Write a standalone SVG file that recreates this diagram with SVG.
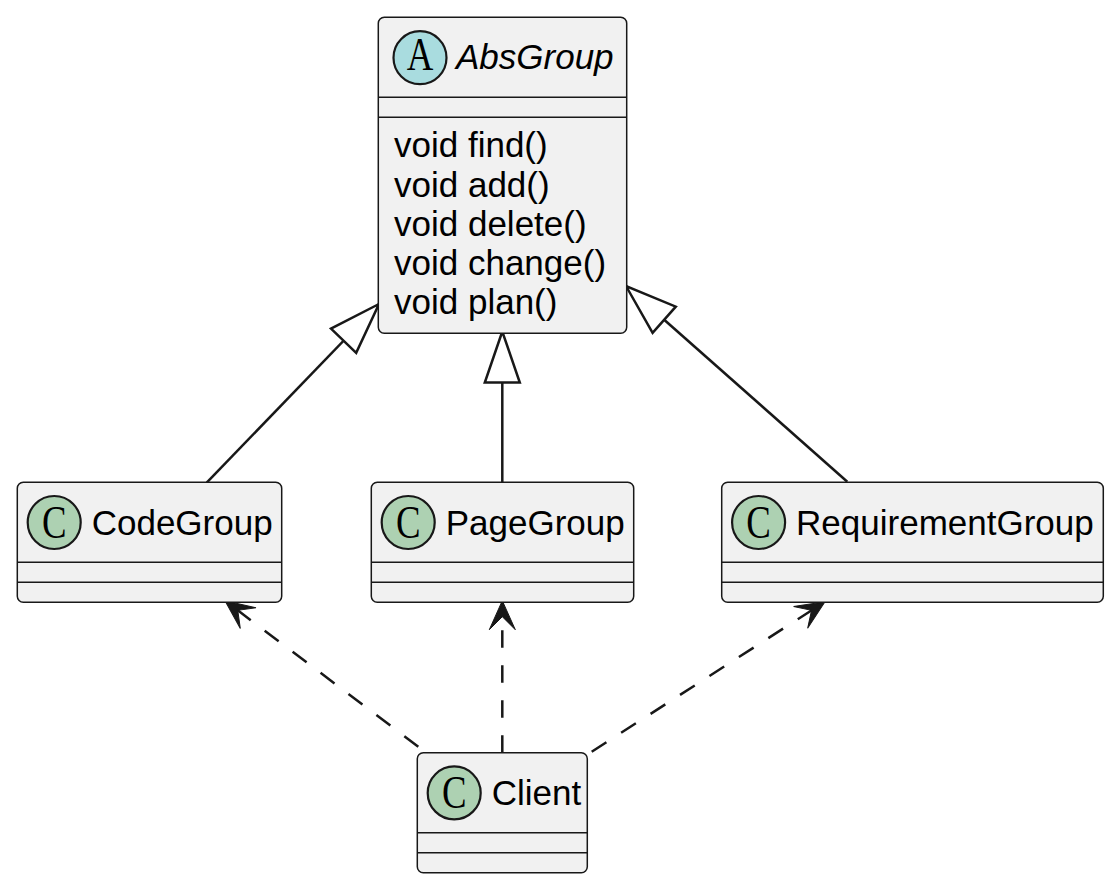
<svg xmlns="http://www.w3.org/2000/svg" width="1118" height="887" viewBox="0 0 1118 887">
<style>
.box{fill:#F1F1F1;stroke:#181818;stroke-width:1.5}
.sep{stroke:#181818;stroke-width:1.5}
.cls{fill:#ADD1B2;stroke:#181818;stroke-width:2.2}
.abs{fill:#A9DCDF;stroke:#181818;stroke-width:2.2}
.ico{font-family:"Liberation Serif","Times New Roman",serif;font-size:46px;fill:#000;text-anchor:middle}
.name{font-family:"Liberation Sans",Arial,sans-serif;font-size:35px;fill:#000}
.it{font-style:italic}
.gen{fill:none;stroke:#181818;stroke-width:2.5;marker-end:url(#tri)}
.dep{fill:none;stroke:#181818;stroke-width:2.5;stroke-dasharray:17.5,17.5;marker-end:url(#arr)}
</style>
<defs>
<marker id="tri" markerUnits="userSpaceOnUse" orient="auto" refX="0" refY="0" markerWidth="1" markerHeight="1" overflow="visible">
<path d="M0,0 L-51,-17.5 L-51,17.5 Z" fill="#FFFFFF" stroke="#181818" stroke-width="2.5" stroke-linejoin="miter"/>
</marker>
<marker id="arr" markerUnits="userSpaceOnUse" orient="auto" refX="0" refY="0" markerWidth="1" markerHeight="1" overflow="visible">
<path d="M0,0 L-29,-13 L-16,0 L-29,13 Z" fill="#181818" stroke="#181818" stroke-width="1"/>
</marker>
</defs>
<rect width="1118" height="887" fill="#FFFFFF"/>
<g id="connectors">
<path class="gen" d="M206.7,482.7 L379,304"/>
<path class="gen" d="M502.3,482.3 L502.3,331.5"/>
<path class="gen" d="M847.3,481.7 L626,286"/>
<path class="dep" d="M418.3,746.7 L225,600.7"/>
<path class="dep" d="M502.3,752.7 L502.3,600.7"/>
<path class="dep" d="M591.7,751.7 L825,601.7"/>
</g>
<g id="AbsGroup">
<rect class="box" x="378.3" y="17.3" width="248.4" height="316" rx="6" ry="6"/>
<circle class="abs" cx="420" cy="57.7" r="26.5"/>
<text class="ico" transform="translate(420,70) scale(0.8,1)">A</text>
<text class="name it" x="456" y="69">AbsGroup</text>
<line class="sep" x1="378.3" y1="97.3" x2="626.7" y2="97.3"/>
<line class="sep" x1="378.3" y1="117.3" x2="626.7" y2="117.3"/>
<text class="name" x="394" y="157.3">void find()</text>
<text class="name" x="394" y="196.5">void add()</text>
<text class="name" x="394" y="235.8">void delete()</text>
<text class="name" x="394" y="275">void change()</text>
<text class="name" x="394" y="314.3">void plan()</text>
</g>
<g id="CodeGroup">
<rect class="box" x="17.3" y="482.3" width="264.4" height="120" rx="6" ry="6"/>
<circle class="cls" cx="54.2" cy="522.5" r="26.5"/>
<text class="ico" transform="translate(54.2,537.5) scale(0.8,1)">C</text>
<text class="name" x="91.7" y="535">CodeGroup</text>
<line class="sep" x1="17.3" y1="562.3" x2="281.7" y2="562.3"/>
<line class="sep" x1="17.3" y1="582.3" x2="281.7" y2="582.3"/>
</g>
<g id="PageGroup">
<rect class="box" x="371.3" y="482.3" width="262.4" height="120" rx="6" ry="6"/>
<circle class="cls" cx="408.2" cy="522.5" r="26.5"/>
<text class="ico" transform="translate(408.2,537.5) scale(0.8,1)">C</text>
<text class="name" x="445.7" y="535">PageGroup</text>
<line class="sep" x1="371.3" y1="562.3" x2="633.7" y2="562.3"/>
<line class="sep" x1="371.3" y1="582.3" x2="633.7" y2="582.3"/>
</g>
<g id="RequirementGroup">
<rect class="box" x="721.7" y="482.3" width="381.6" height="120" rx="6" ry="6"/>
<circle class="cls" cx="758.6" cy="522.5" r="26.5"/>
<text class="ico" transform="translate(758.6,537.5) scale(0.8,1)">C</text>
<text class="name" x="796.1" y="535">RequirementGroup</text>
<line class="sep" x1="721.7" y1="562.3" x2="1103.3" y2="562.3"/>
<line class="sep" x1="721.7" y1="582.3" x2="1103.3" y2="582.3"/>
</g>
<g id="Client">
<rect class="box" x="417.3" y="752.7" width="170" height="120" rx="6" ry="6"/>
<circle class="cls" cx="454.2" cy="792.9" r="26.5"/>
<text class="ico" transform="translate(454.2,807.9) scale(0.8,1)">C</text>
<text class="name" x="491.7" y="805.4">Client</text>
<line class="sep" x1="417.3" y1="832.7" x2="587.3" y2="832.7"/>
<line class="sep" x1="417.3" y1="852.7" x2="587.3" y2="852.7"/>
</g>
</svg>
